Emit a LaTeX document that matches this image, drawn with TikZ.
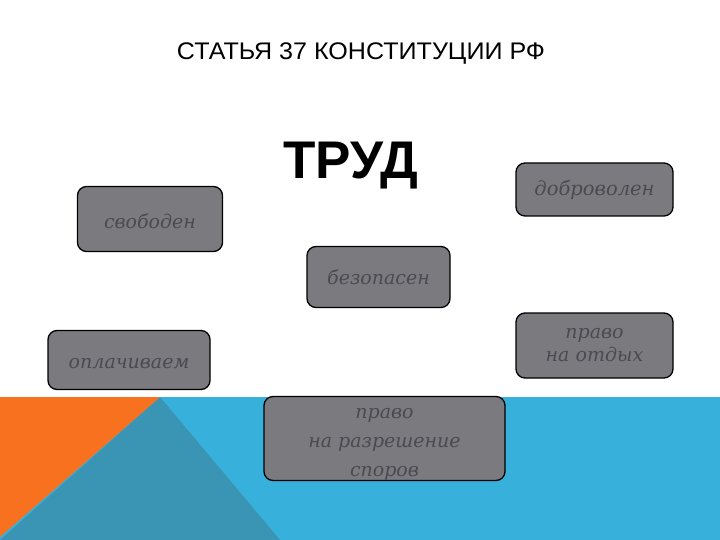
\documentclass[tikz,border=0pt]{standalone}
\usepackage{graphicx}
\usepackage{fontspec}
\setmainfont{Liberation Sans}
\newfontfamily\boxfont{DejaVu Serif}
\definecolor{orng}{HTML}{F7711E}
\definecolor{dteal}{HTML}{3A94B3}
\definecolor{lblue}{HTML}{38B0DC}
\definecolor{boxfill}{HTML}{7B7A7F}
\definecolor{boxtext}{HTML}{4B4A50}
\begin{document}
\begin{tikzpicture}[x=1pt,y=-1pt,
  card/.style={draw=black, line width=1.3pt, fill=boxfill, rounded corners=9pt,
    text=boxtext, font=\boxfont\itshape\fontsize{19}{24}\selectfont, align=center,
    inner sep=0pt}]
\useasboundingbox (0,0) rectangle (720,540);
\fill[white] (0,0) rectangle (720,540);
% bottom band
\fill[lblue] (0,397) rectangle (720,540);
\fill[dteal] (160,397) -- (280,540) -- (0,540) -- cycle;
\fill[orng] (0,397) -- (160,397) -- (0,537) -- cycle;
% titles
\node[font=\fontsize{24}{28}\selectfont] (title) at (361,54) {\scalebox{1.045}[1]{СТАТЬЯ 37 КОНСТИТУЦИИ РФ}};
\node[font=\bfseries\fontsize{53}{60}\selectfont] (trud) at (351,166) {ТРУД};
% boxes
\node[card, minimum width=145pt, minimum height=65pt] (svob) at (150,219) {\rule{0pt}{19pt}свободен};
\node[card, minimum width=157pt, minimum height=53pt, font=\boxfont\itshape\fontsize{19.5}{24}\selectfont] (dobr) at (594.5,189.5) {доброволен};
\node[card, minimum width=143pt, minimum height=61pt] (bez) at (378.5,277) {безопасен};
\node[card, minimum width=157pt, minimum height=65pt, font=\boxfont\itshape\fontsize{19}{23}\selectfont] (otd) at (594.5,345.5) {право\\на отдых};
\node[card, minimum width=162pt, minimum height=59pt] (opl) at (129,360) {\rule{0pt}{17pt}оплачиваем};
\node[card, minimum width=241pt, minimum height=84pt, font=\boxfont\itshape\fontsize{19}{29}\selectfont] (spor) at (384.5,438.5) {\rule{0pt}{22pt}право\\на разрешение\\споров};
\end{tikzpicture}
\end{document}
